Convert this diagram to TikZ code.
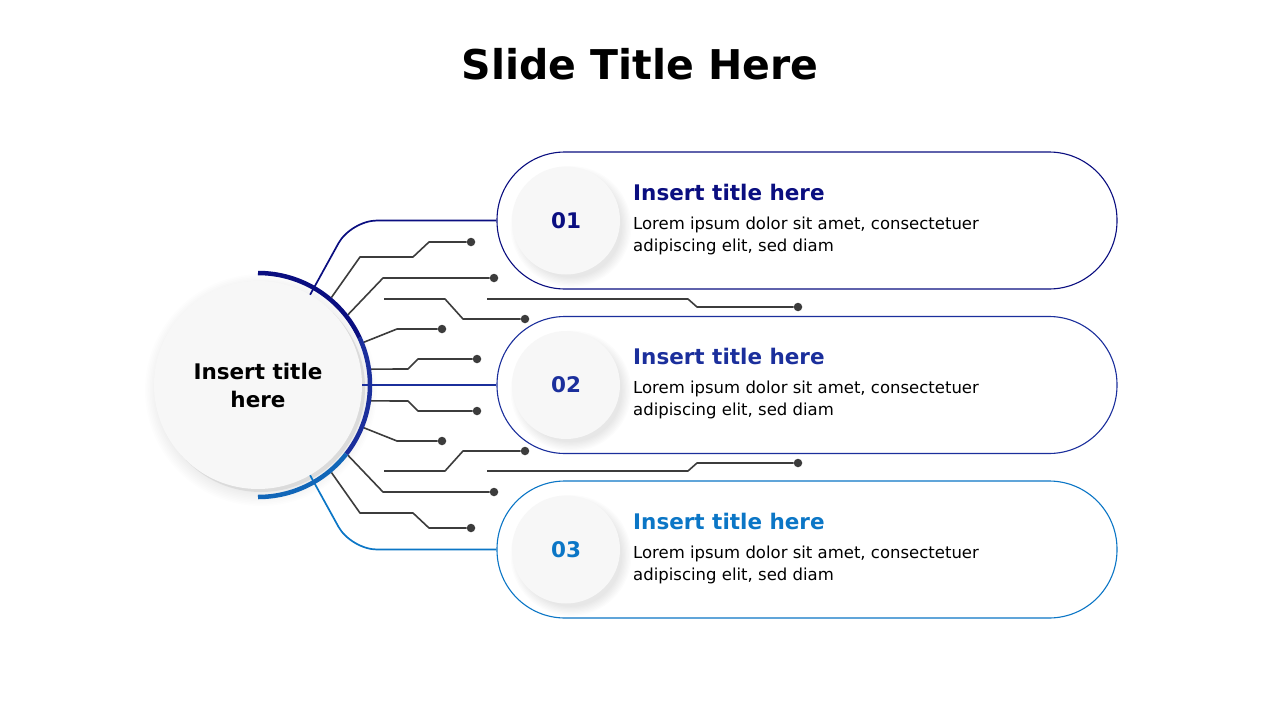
\documentclass[tikz,border=0pt]{standalone}
\usepackage{fontspec}
\setmainfont{DejaVu Sans}
\usetikzlibrary{positioning}
\definecolor{navyone}{HTML}{0A0E80}
\definecolor{bluetwo}{HTML}{1B2F9C}
\definecolor{bluethree}{HTML}{0B76C6}
\definecolor{arcthree}{HTML}{1166B8}
\definecolor{wiregray}{HTML}{3C3C3C}
\definecolor{knob}{HTML}{F7F7F7}

\begin{document}
\begin{tikzpicture}[x=1pt, y=-1pt, line join=round,
    every node/.style={font=\fontsize{16.5}{22}\selectfont},
    wire/.style={draw=wiregray, line width=1.6},
    link/.style={draw=#1, line width=1.7, rounded corners=26},
    dot/.style={circle, fill=wiregray, inner sep=0, minimum size=8.5},
    card/.style={draw=#1, line width=1.1, fill=white, minimum width=620, minimum height=137, rounded corners=68, inner sep=0},
    num/.style={circle, fill=knob, minimum size=108, inner sep=0, text=#1, font=\bfseries\fontsize{21.5}{26}\selectfont},
    head/.style={anchor=base west, inner sep=0, text=#1, font=\bfseries\fontsize{21.5}{26}\selectfont},
    body/.style={anchor=north west, inner sep=0, align=left}]

  \fill[white] (0,0) rectangle (1280,720);
  \useasboundingbox (0,0) rectangle (1280,720);

  \node[anchor=base, font=\bfseries\fontsize{41}{48}\selectfont] (title) at (640,79) {Slide Title Here};

  % cards
  \node[card=navyone]   (card1) at (807,220.5) {};
  \node[card=bluetwo]   (card2) at (807,385) {};
  \node[card=bluethree] (card3) at (807,549.5) {};

  % soft shadows of the number knobs
  \foreach \y in {220.5,385,549.5}
    \foreach \k in {1,...,8}
      \fill[black, opacity=0.011] (571,\y+6) circle[radius=50+\k*1.3];

  \node[num=navyone]   (n1) at (566,220.5) {01};
  \node[num=bluetwo]   (n2) at (566,385) {02};
  \node[num=bluethree] (n3) at (566,549.5) {03};

  \node[head=navyone]   (h1) at (633,200) {Insert title here};
  \node[body]           (b1) at (633,216.5) {Lorem ipsum dolor sit amet, consectetuer\\adipiscing elit, sed diam};
  \node[head=bluetwo]   (h2) at (633,364.5) {Insert title here};
  \node[body]           (b2) at (633,381) {Lorem ipsum dolor sit amet, consectetuer\\adipiscing elit, sed diam};
  \node[head=bluethree] (h3) at (633,529) {Insert title here};
  \node[body]           (b3) at (633,545.5) {Lorem ipsum dolor sit amet, consectetuer\\adipiscing elit, sed diam};

  % hub
  \foreach \k in {1,...,10}
    \fill[black, opacity=0.009] (261,390) circle[radius=100+\k*1.6];
  \fill[gray!28] (261,388) circle[radius=104];
  \node[circle, fill=knob, minimum size=208, inner sep=0, align=center,
        font=\bfseries\fontsize{21.5}{28}\selectfont] (hub) at (258,385) {Insert title\\here};
  \node[circle, minimum size=228, inner sep=0] (ring) at (hub.center) {};

  % upper wires
  \node[dot] (d1) at (471,242) {};
  \node[dot] (d2) at (494,278) {};
  \node[dot] (d3) at (525,319) {};
  \node[dot] (d4) at (798,307) {};
  \node[dot] (d5) at (442,329) {};
  \node[dot] (d6) at (477,359) {};
  \coordinate (f3) at (384,299);
  \coordinate (f4) at (487,299);
  \draw[wire] (ring.50) -- (360,257) -- (413,257) -- (429,242) -- (d1);
  \draw[wire] (ring.38) -- (383,278) -- (d2);
  \draw[wire] (f3) -- (445,299) -- (463,319) -- (d3);
  \draw[wire] (f4) -- (688,299) -- (697,307) -- (d4);
  \draw[wire] (ring.22) -- (397,329) -- (d5);
  \draw[wire] (ring.8) -- (408,369) -- (418,359) -- (d6);

  % lower wires
  \node[dot] (d7) at (477,411) {};
  \node[dot] (d8) at (442,441) {};
  \node[dot] (d9) at (525,451) {};
  \node[dot] (d10) at (798,463) {};
  \node[dot] (d11) at (494,492) {};
  \node[dot] (d12) at (471,528) {};
  \coordinate (f9) at (384,471);
  \coordinate (f10) at (487,471);
  \draw[wire] (ring.-8) -- (408,401) -- (418,411) -- (d7);
  \draw[wire] (ring.-22) -- (397,441) -- (d8);
  \draw[wire] (f9) -- (445,471) -- (463,451) -- (d9);
  \draw[wire] (f10) -- (688,471) -- (697,463) -- (d10);
  \draw[wire] (ring.-38) -- (383,492) -- (d11);
  \draw[wire] (ring.-50) -- (360,513) -- (413,513) -- (429,528) -- (d12);

  % links to the cards
  \draw[link=navyone] (hub.60) -- (351,220.5) -- (card1.west);
  \draw[link=bluetwo] (hub.east) -- (card2.west);
  \draw[link=bluethree] (hub.-60) -- (351,549.5) -- (card3.west);

  % rim arc (y runs downwards, so angles are mirrored)
  \draw[navyone, line width=4.5] (hub.center) ++(-90:112) arc[start angle=-90, end angle=-25, radius=112];
  \draw[bluetwo, line width=4.5] (hub.center) ++(-25:112) arc[start angle=-25, end angle=38, radius=112];
  \draw[arcthree, line width=4.5] (hub.center) ++(38:112) arc[start angle=38, end angle=90, radius=112];
\end{tikzpicture}
\end{document}
